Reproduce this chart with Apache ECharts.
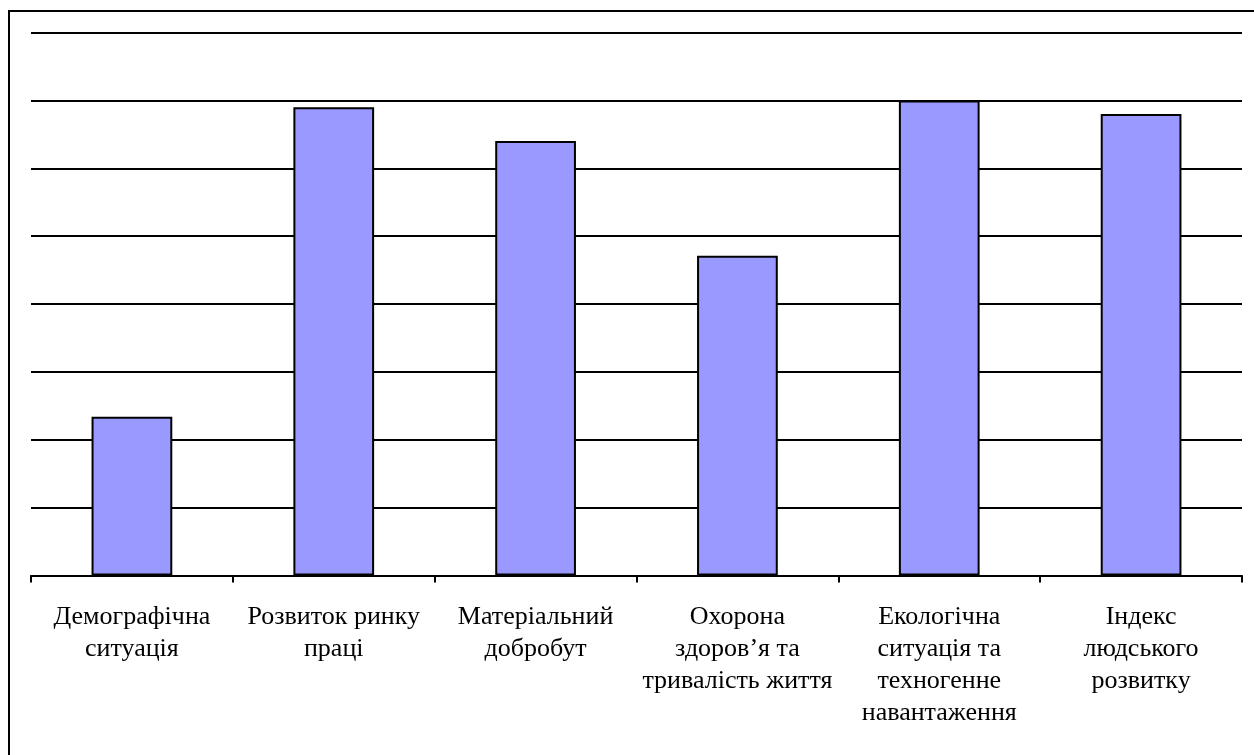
<!DOCTYPE html>
<html><head><meta charset="utf-8">
<script src="https://cdn.jsdelivr.net/npm/echarts@6/dist/echarts.min.js"></script>
<style>html,body{margin:0;padding:0;background:#fff}#c{width:1254px;height:755px}</style>
</head><body><div id="c"></div>
<script>
const categories = [
  "Демографічна\nситуація",
  "Розвиток ринку\nпраці",
  "Матеріальний\nдобробут",
  "Охорона\nздоров\u2019я та\nтривалість життя",
  "Екологічна\nситуація та\nтехногенне\nнавантаження",
  "Індекс\nлюдського\nрозвитку"
];
const values = [2.34, 6.90, 6.40, 4.71, 7.00, 6.80];
const yMin = 0, yMax = 8, yInterval = 1;

const chart = echarts.init(document.getElementById('c'), null, {renderer: 'canvas'});
chart.setOption({
  backgroundColor: '#fff',
  animation: false,
  grid: {left: 31, right: 12, top: 32.5, bottom: 179.5, containLabel: false},
  xAxis: {
    type: 'category', data: categories,
    axisLine: {lineStyle: {color: '#000', width: 2}},
    axisTick: {show: true, length: 7, lineStyle: {color: '#000', width: 2}},
    axisLabel: {color: '#000', fontFamily: 'Liberation Serif', fontSize: 26, lineHeight: 32, margin: 26, interval: 0}
  },
  yAxis: {
    type: 'value', min: yMin, max: yMax, interval: yInterval,
    axisLine: {show: false}, axisTick: {show: false}, axisLabel: {show: false},
    splitLine: {lineStyle: {color: '#000', width: 2}}
  },
  series: [{
    type: 'bar', data: values, barWidth: '40%',
    itemStyle: {color: '#9999FF', borderColor: '#000', borderWidth: 2}
  }],
  graphic: [{
    type: 'polyline', silent: true,
    shape: {points: [[9, 755], [9, 11], [1254, 11]]},
    style: {stroke: '#000', lineWidth: 2, fill: null}
  }]
});
</script></body></html>
